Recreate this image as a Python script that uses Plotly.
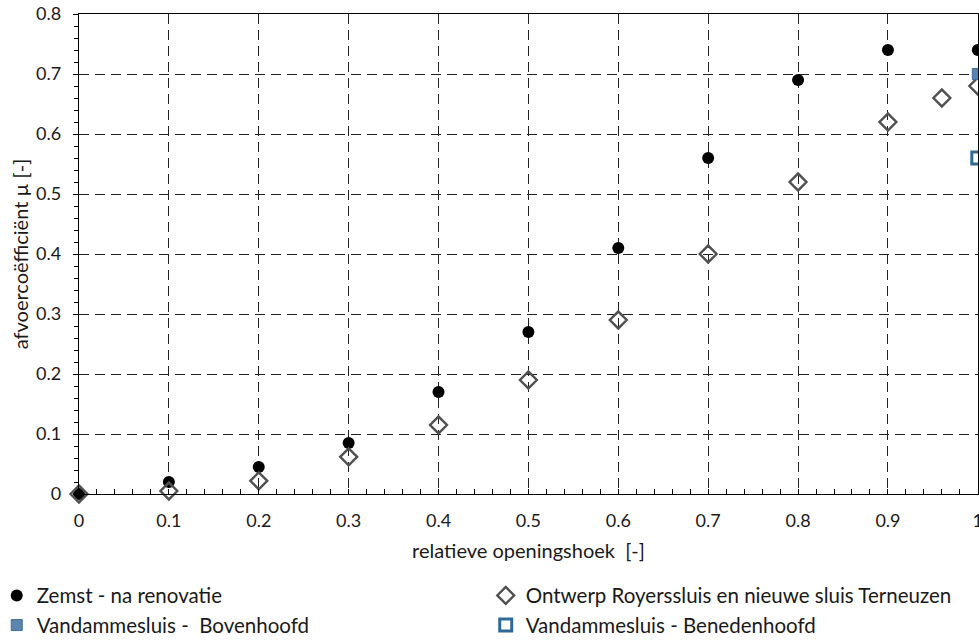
import plotly.graph_objects as go

# Data
zemst_x = [0, 0.1, 0.2, 0.3, 0.4, 0.5, 0.6, 0.7, 0.8, 0.9, 1.0]
zemst_y = [0, 0.02, 0.045, 0.085, 0.17, 0.27, 0.41, 0.56, 0.69, 0.74, 0.74]

ontwerp_x = [0, 0.1, 0.2, 0.3, 0.4, 0.5, 0.6, 0.7, 0.8, 0.9, 0.96, 1.0]
ontwerp_y = [0, 0.005, 0.022, 0.062, 0.115, 0.19, 0.29, 0.40, 0.52, 0.62, 0.66, 0.68]

boven_x = [1.0]
boven_y = [0.70]

beneden_x = [1.0]
beneden_y = [0.56]

x_ticks = [0, 0.1, 0.2, 0.3, 0.4, 0.5, 0.6, 0.7, 0.8, 0.9, 1]
y_ticks = [0, 0.1, 0.2, 0.3, 0.4, 0.5, 0.6, 0.7, 0.8]

FONT = "Lato"
TXT = "#1a1a1a"

fig = go.Figure()
fig.add_trace(go.Scatter(
    x=zemst_x, y=zemst_y, mode="markers", name="Zemst - na renovatie",
    cliponaxis=False,
    marker=dict(symbol="circle", size=12, color="black"),
))
fig.add_trace(go.Scatter(
    x=ontwerp_x, y=ontwerp_y, mode="markers",
    name="Ontwerp Royerssluis en nieuwe sluis Terneuzen",
    cliponaxis=False,
    marker=dict(symbol="diamond-open", size=13, color="#505050",
                line=dict(width=2.4, color="#505050")),
))
fig.add_trace(go.Scatter(
    x=boven_x, y=boven_y, mode="markers", name="Vandammesluis -  Bovenhoofd",
    cliponaxis=False,
    marker=dict(symbol="square", size=11, color="#5a86ad",
                line=dict(width=1, color="#3f6f99")),
))
fig.add_trace(go.Scatter(
    x=beneden_x, y=beneden_y, mode="markers", name="Vandammesluis - Benedenhoofd",
    cliponaxis=False,
    marker=dict(symbol="square", size=12, color="white",
                line=dict(width=3, color="#2f6a96")),
))

axis_common = dict(
    showline=True, linecolor="black", linewidth=1.3, mirror=True,
    showgrid=True, gridcolor="#222222", gridwidth=1, griddash="10px,6px",
    zeroline=False, tickcolor="black", ticklabeloverflow="allow",
    tickfont=dict(family=FONT, size=18, color=TXT),
)

fig.update_xaxes(
    range=[0, 1.0002], tickvals=x_ticks, ticks="inside", ticklen=5,
    ticklabelstandoff=10,
    minor=dict(dtick=0.02, ticks="inside", ticklen=5, tickcolor="black", showgrid=False),
    title=dict(text="relatieve openingshoek  [-]", font=dict(family=FONT, size=20, color=TXT), standoff=14),
    **axis_common,
)
fig.update_yaxes(
    range=[0, 0.8], tickvals=y_ticks, ticks="outside", ticklen=5,
    ticklabelstandoff=8,
    minor=dict(dtick=0.02, ticks="outside", ticklen=4, tickcolor="black", showgrid=False),
    title=dict(text="afvoercoëfficiënt µ [-]", font=dict(family=FONT, size=20, color=TXT), standoff=2),
    **axis_common,
)

fig.update_layout(
    width=979, height=641,
    margin=dict(l=79, r=1, t=14, b=147, autoexpand=False),
    plot_bgcolor="white", paper_bgcolor="white",
    font=dict(family=FONT, size=16, color=TXT),
    legend=dict(
        orientation="h", x=-0.0915, xanchor="left", y=-0.17, yanchor="top",
        entrywidth=444, entrywidthmode="pixels",
        font=dict(family=FONT, size=20.5, color=TXT),
        itemwidth=30, tracegroupgap=0,
    ),
)

fig.write_html("out.html", config={"displayModeBar": False},
               post_script="document.body.style.margin='0';")
